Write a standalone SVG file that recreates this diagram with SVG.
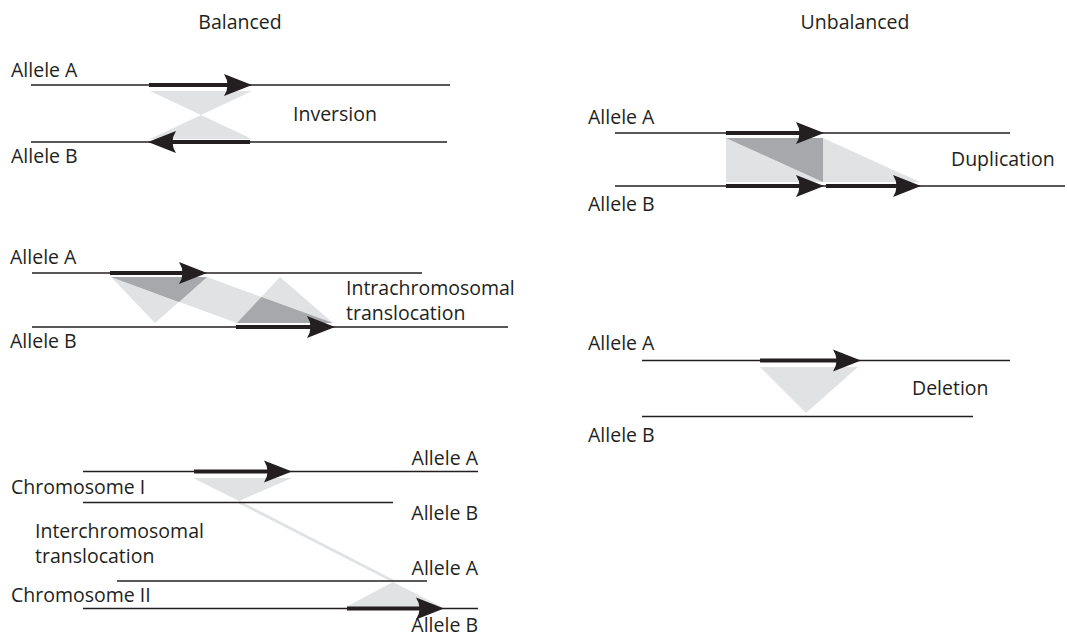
<svg xmlns="http://www.w3.org/2000/svg" width="1067" height="636" viewBox="0 0 1067 636">
<style>
.t{font-family:"Open Sans","Liberation Sans",sans-serif;font-size:19.5px;fill:#231f20}
.e{text-anchor:end}
.m{text-anchor:middle}
.ln{stroke:#231f20;stroke-width:1.6;fill:none}
.ar{stroke:#231f20;stroke-width:4.2;fill:none;marker-end:url(#ah)}
.lt{fill:#e1e2e3}
.dk{fill:#a6a8ab}
</style>
<defs>
<marker id="ah" markerUnits="userSpaceOnUse" viewBox="0 0 30 24" refX="10" refY="12" markerWidth="30" markerHeight="24" orient="auto">
<path d="M30,12 L2,1 Q9,12 2,23 Z" fill="#231f20"/>
</marker>
</defs>
<rect width="1067" height="636" fill="#ffffff"/>
<text class="t m" x="240" y="29">Balanced</text>
<text class="t m" x="855" y="29">Unbalanced</text>

<g id="inversion">
<polygon class="lt" points="150,91 252,91 201,115"/>
<polygon class="lt" points="150,139 252,139 201,115"/>
<line class="ln" x1="31" y1="85" x2="450" y2="85"/>
<line class="ln" x1="31" y1="142" x2="447" y2="142"/>
<line class="ar" x1="149" y1="85" x2="232" y2="85"/>
<line class="ar" x1="250" y1="142" x2="168" y2="142"/>
<text class="t" x="11" y="77">Allele A</text>
<text class="t" x="11" y="163">Allele B</text>
<text class="t" x="293" y="121">Inversion</text>
</g>

<g id="intrachromosomal">
<polygon class="lt" points="111,277 207,277 333,323 237,323"/>
<polygon class="lt" points="111,277 207,277 155,323"/>
<polygon class="lt" points="237,323 333,323 280,277"/>
<polygon class="dk" points="111,277 207,277 179,302"/>
<polygon class="dk" points="261.4,296.9 237,323 333,323"/>
<line class="ln" x1="32" y1="273" x2="422" y2="273"/>
<line class="ln" x1="32" y1="327" x2="508" y2="327"/>
<line class="ar" x1="110" y1="273" x2="187" y2="273"/>
<line class="ar" x1="236" y1="327" x2="315" y2="327"/>
<text class="t" x="10" y="264">Allele A</text>
<text class="t" x="10" y="348">Allele B</text>
<text class="t" x="346" y="295">Intrachromosomal</text>
<text class="t" x="346" y="320">translocation</text>
</g>

<g id="interchromosomal">
<polygon class="lt" points="193,478 292,478 239,501"/>
<line x1="239" y1="502" x2="393" y2="581" stroke="#e1e2e3" stroke-width="2.8"/>
<polygon class="lt" points="346,607 442,607 393,582"/>
<line class="ln" x1="83" y1="471.5" x2="478" y2="471.5"/>
<line class="ln" x1="83" y1="502.5" x2="393" y2="502.5"/>
<line class="ln" x1="117" y1="581" x2="427" y2="581"/>
<line class="ln" x1="83" y1="608.5" x2="478" y2="608.5"/>
<line class="ar" x1="194" y1="471.5" x2="272" y2="471.5"/>
<line class="ar" x1="347" y1="608.5" x2="424" y2="608.5"/>
<text class="t e" x="478" y="465">Allele A</text>
<text class="t" x="11" y="494">Chromosome I</text>
<text class="t e" x="478" y="520">Allele B</text>
<text class="t" x="35" y="538">Interchromosomal</text>
<text class="t" x="35" y="563">translocation</text>
<text class="t e" x="478" y="575">Allele A</text>
<text class="t" x="11" y="602">Chromosome II</text>
<text class="t e" x="478" y="632">Allele B</text>
</g>

<g id="duplication">
<polygon class="lt" points="726,138 823,138 823,182 726,182"/>
<polygon class="lt" points="823,138 920,182 823,182"/>
<polygon class="dk" points="726,138 823,138 823,182"/>
<line class="ln" x1="615" y1="133" x2="1010" y2="133"/>
<line class="ln" x1="615" y1="186" x2="1065" y2="186"/>
<line class="ar" x1="726" y1="133" x2="804" y2="133"/>
<line class="ar" x1="726" y1="186" x2="804" y2="186"/>
<line class="ar" x1="826" y1="186" x2="901" y2="186"/>
<text class="t" x="588" y="124">Allele A</text>
<text class="t" x="588" y="211">Allele B</text>
<text class="t" x="951" y="166">Duplication</text>
</g>

<g id="deletion">
<polygon class="lt" points="760,367 858,367 806,413"/>
<line class="ln" x1="642" y1="360.5" x2="1010" y2="360.5"/>
<line class="ln" x1="642" y1="416.5" x2="973" y2="416.5"/>
<line class="ar" x1="760" y1="360.5" x2="841" y2="360.5"/>
<text class="t" x="588" y="350">Allele A</text>
<text class="t" x="588" y="442">Allele B</text>
<text class="t" x="912" y="395">Deletion</text>
</g>
</svg>
